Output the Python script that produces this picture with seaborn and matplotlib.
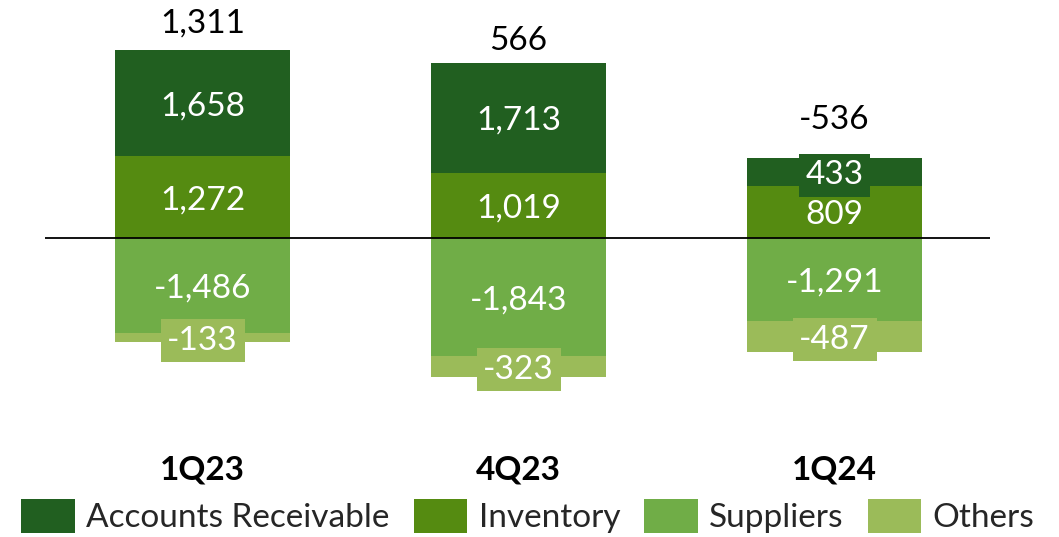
import matplotlib
matplotlib.use("Agg")
import matplotlib.pyplot as plt
from matplotlib.patches import Patch
import matplotlib.transforms as mtransforms
import numpy as np
import pandas as pd
import seaborn as sns

# Working-capital drivers by quarter
quarters = ["1Q23", "4Q23", "1Q24"]
accounts_receivable = [1658, 1713, 433]
inventory = [1272, 1019, 809]
suppliers = [-1486, -1843, -1291]
others = [-133, -323, -487]
totals = [1311, 566, -536]

series_names = ["Accounts Receivable", "Inventory", "Suppliers", "Others"]
colors = {
    "Accounts Receivable": "#215F20",
    "Inventory": "#558B11",
    "Suppliers": "#70AD47",
    "Others": "#9BBB59",
}

sns.set_theme(style="white")
plt.rcParams["font.family"] = ["Lato", "DejaVu Sans"]

FS = 24

fig = plt.figure(figsize=(10.59, 5.37), dpi=100)
ax = fig.add_axes([0, 0, 1, 1])

# stacking order: positives grow up from zero, negatives grow down from zero
stack_order = [
    ("Inventory", inventory),
    ("Accounts Receivable", accounts_receivable),
    ("Suppliers", suppliers),
    ("Others", others),
]

pos_base = np.zeros(len(quarters))
neg_base = np.zeros(len(quarters))
segments = []
for name, vals in stack_order:
    vals = np.asarray(vals, dtype=float)
    base = np.where(vals >= 0, pos_base, neg_base)
    df = pd.DataFrame({"quarter": quarters, "value": vals})
    sns.barplot(data=df, x="quarter", y="value", color=colors[name],
                saturation=1, width=0.554, bottom=base, errorbar=None,
                linewidth=0, ax=ax)
    for i, v in enumerate(vals):
        segments.append((i, base[i] + v / 2, v, colors[name]))
    pos_base = np.where(vals >= 0, pos_base + vals, pos_base)
    neg_base = np.where(vals < 0, neg_base + vals, neg_base)

ax.set_xlim(-0.641, 2.710)
ax.set_ylim(-4658, 3708)
ax.axis("off")

# segment value labels
for i, yc, v, c in segments:
    kw = {}
    if abs(v) < 500:
        kw["bbox"] = dict(boxstyle="square,pad=0.2", fc=c, ec="none")
    ax.text(i, yc, f"{int(v):,}", color="white", fontsize=FS,
            ha="center", va="center_baseline", zorder=5, **kw)

# zero line
ax.hlines(0, -0.498, 2.492, color="black", lw=1.3, zorder=6)

# net totals above each stack
total_offsets = [21.5, 18, 29.5]
for i, t in enumerate(totals):
    ax.annotate(f"{t:,}", xy=(i, pos_base[i]), xytext=(0, total_offsets[i]),
                textcoords="offset points", ha="center", va="center_baseline",
                fontsize=FS, color="black")

# quarter labels
trans = mtransforms.blended_transform_factory(ax.transData, ax.transAxes)
for i, q in enumerate(quarters):
    ax.text(i, 1 - 467 / 537, q, transform=trans, ha="center",
            va="center_baseline", fontsize=FS, fontweight="bold", color="black")

handles = [Patch(facecolor=colors[n], edgecolor="none", label=n) for n in series_names]
fig.legend(handles=handles, loc="center", bbox_to_anchor=(0.4985, 1 - 516 / 537),
           ncol=4, frameon=False, fontsize=FS, handlelength=1.6, handleheight=1.2,
           handletextpad=0.35, columnspacing=0.72, borderpad=0)

fig.savefig("out.png", dpi=100)
